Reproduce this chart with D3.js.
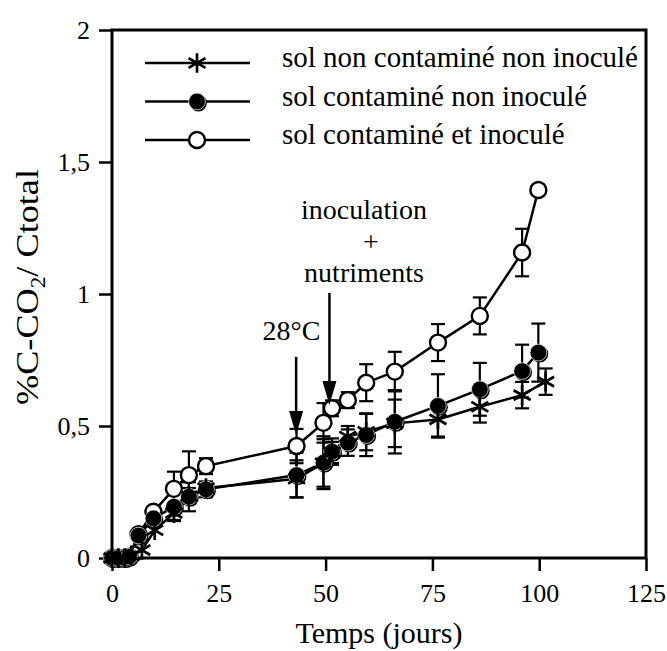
<!DOCTYPE html>
<html lang="fr">
<head>
<meta charset="UTF-8">
<title>%C-CO2 / Ctotal</title>
<script src="https://d3js.org/d3.v7.min.js"></script>
<style>
  body { margin: 0; background: #fff; }
  svg text { font-family: "Liberation Serif", "Times New Roman", serif; fill: #000; }
</style>
</head>
<body>
<div id="chart"></div>
<script>
  // jours de mesure
  const jours = [0, 1.5, 3, 4, 6.2, 9.7, 14.5, 18, 22, 43.2, 49.5, 51.5, 55.2, 59.5, 66.2, 76.3, 86.1, 96, 99.8];
  const joursEtoile = [0, 1.5, 3, 4.5, 7, 10, 14.5, 18, 22, 43.2, 49.5, 51.5, 55.2, 59.5, 66.2, 76.3, 86.1, 96, 101.5];

  // sol contaminé et inoculé (cercles ouverts)
  const sci = [0, 0, 0, 0.005, 0.09, 0.175, 0.262, 0.314, 0.348, 0.424, 0.512, 0.567, 0.598, 0.664, 0.706, 0.816, 0.917, 1.157, 1.394];
  const sciErr = [0, 0, 0, 0, 0, 0.02, 0.065, 0.09, 0.03, 0.065, 0.075, 0.03, 0.03, 0.07, 0.075, 0.07, 0.07, 0.09, 0.02];

  // sol contaminé non inoculé (cercles pleins)
  const scni = [0, 0, 0, 0.005, 0.085, 0.15, 0.194, 0.232, 0.26, 0.314, 0.361, 0.403, 0.437, 0.466, 0.516, 0.576, 0.639, 0.708, 0.778];
  const scniErr = [0, 0, 0, 0, 0, 0.02, 0.05, 0.055, 0.03, 0.085, 0.1, 0.05, 0.05, 0.08, 0.12, 0.12, 0.1, 0.1, 0.11];

  // sol non contaminé non inoculé (étoiles)
  const sncni = [0, 0, 0, 0.01, 0.03, 0.105, 0.17, 0.235, 0.265, 0.30, 0.36, 0.40, 0.46, 0.478, 0.51, 0.525, 0.573, 0.617, 0.668];
  const sncniErr = [0, 0, 0, 0, 0, 0.02, 0.03, 0.03, 0.02, 0.07, 0.09, 0.04, 0.04, 0.07, 0.09, 0.065, 0.06, 0.05, 0.05];

  const xTicks = [0, 25, 50, 75, 100, 125];
  const yTicks = [0, 0.5, 1, 1.5, 2];

  const legende = ["sol non contaminé non inoculé", "sol contaminé non inoculé", "sol contaminé et inoculé"];

  // événements : jour, haut et pointe de la flèche (en %)
  const evenements = [
    { jour: 43.1, haut: 0.762, pointe: 0.466 },
    { jour: 50.9, haut: 1.004, pointe: 0.58 }
  ];

  const width = 667, height = 651;

  const svg = d3.select("#chart").append("svg")
    .attr("width", width)
    .attr("height", height);

  const x = d3.scaleLinear().domain([0, 125]).range([112, 646]);
  const y = d3.scaleLinear().domain([0, 2]).range([558, 30]);

  // axes
  const xAxis = svg.append("g")
    .attr("transform", `translate(0,${y(0)})`)
    .call(d3.axisBottom(x).tickValues(xTicks).tickSize(13).tickPadding(13));
  const yAxis = svg.append("g")
    .attr("transform", `translate(${x(0)},0)`)
    .call(d3.axisLeft(y).tickValues(yTicks).tickSize(13).tickPadding(9)
      .tickFormat(d => String(d).replace(".", ",")));

  [xAxis, yAxis].forEach(a => {
    a.select(".domain").remove();
    a.selectAll("line").attr("stroke", "#000").attr("stroke-width", 2.5);
    a.selectAll("text").style("font-size", "26px").attr("fill", "#000");
  });

  // cadre
  svg.append("rect")
    .attr("x", x(0)).attr("y", y(2))
    .attr("width", x(125) - x(0)).attr("height", y(0) - y(2))
    .attr("fill", "none").attr("stroke", "#000").attr("stroke-width", 3);

  // titres des axes
  svg.append("text")
    .attr("x", (x(0) + x(125)) / 2).attr("y", 643)
    .attr("text-anchor", "middle")
    .style("font-size", "30px")
    .text("Temps (jours)");

  const yt = svg.append("text")
    .attr("transform", "translate(38,405) rotate(-90)")
    .attr("textLength", 236)
    .attr("lengthAdjust", "spacingAndGlyphs")
    .style("font-size", "31px");
  yt.append("tspan").text("%C-CO");
  yt.append("tspan").attr("dy", 7).style("font-size", "20px").text("2");
  yt.append("tspan").attr("dy", -7).text("/ Ctotal");

  const series = [
    { nom: legende[2], jours: jours, val: sci, err: sciErr, type: "ouvert" },
    { nom: legende[1], jours: jours, val: scni, err: scniErr, type: "plein" },
    { nom: legende[0], jours: joursEtoile, val: sncni, err: sncniErr, type: "etoile" }
  ];

  const line = d3.line().x(d => x(d[0])).y(d => y(d[1]));

  const asterisk = d3.symbolAsterisk || {
    draw(ctx, size) {
      const r = Math.sqrt(size + Math.min(size / 28, 0.75)) * 0.59436;
      const t = r / 2, u = t * Math.sqrt(3);
      ctx.moveTo(0, r); ctx.lineTo(0, -r);
      ctx.moveTo(-u, -t); ctx.lineTo(u, t);
      ctx.moveTo(-u, t); ctx.lineTo(u, -t);
    }
  };
  const starPath = d3.symbol().type(asterisk).size(270)();

  function drawMarker(g, type) {
    if (type === "etoile") {
      g.append("path").attr("d", starPath)
        .attr("fill", "none").attr("stroke", "#000").attr("stroke-width", 2.7);
    } else if (type === "plein") {
      g.append("circle").attr("cx", 1.3).attr("cy", 1.3).attr("r", 8.6).attr("fill", "#000");
      g.append("circle").attr("r", 8.4)
        .attr("fill", "#000").attr("stroke", "#fff").attr("stroke-width", 0.7);
    } else {
      g.append("circle").attr("r", 8)
        .attr("fill", "#fff")
        .attr("stroke", "#000").attr("stroke-width", 2.4);
    }
  }

  series.forEach(s => {
    const pts = s.jours.map((j, i) => [j, s.val[i], s.err[i]]);

    svg.append("path")
      .datum(pts)
      .attr("d", line)
      .attr("fill", "none")
      .attr("stroke", "#000")
      .attr("stroke-width", 2.5);

    // barres d'erreur
    const eb = svg.append("g").selectAll("g")
      .data(pts.filter(p => p[2] > 0.025))
      .join("g");
    eb.append("line")
      .attr("x1", p => x(p[0])).attr("x2", p => x(p[0]))
      .attr("y1", p => y(p[1] + p[2])).attr("y2", p => y(p[1] - p[2]))
      .attr("stroke", "#000").attr("stroke-width", 2.2);
    eb.append("line")
      .attr("x1", p => x(p[0]) - 7).attr("x2", p => x(p[0]) + 7)
      .attr("y1", p => y(p[1] + p[2])).attr("y2", p => y(p[1] + p[2]))
      .attr("stroke", "#000").attr("stroke-width", 2.2);
    eb.append("line")
      .attr("x1", p => x(p[0]) - 7).attr("x2", p => x(p[0]) + 7)
      .attr("y1", p => y(p[1] - p[2])).attr("y2", p => y(p[1] - p[2]))
      .attr("stroke", "#000").attr("stroke-width", 2.2);
  });

  series.forEach(s => {
    svg.append("g").selectAll("g")
      .data(s.jours.map((j, i) => [j, s.val[i]]))
      .join("g")
      .attr("transform", p => `translate(${x(p[0])},${y(p[1])})`)
      .each(function () { drawMarker(d3.select(this), s.type); });
  });

  // légende
  const legRows = [
    { nom: legende[0], type: "etoile" },
    { nom: legende[1], type: "plein" },
    { nom: legende[2], type: "ouvert" }
  ];
  const leg = svg.append("g").selectAll("g")
    .data(legRows)
    .join("g")
    .attr("transform", (d, i) => `translate(0,${63 + i * 38.5})`);
  leg.append("line")
    .attr("x1", 145).attr("x2", 250)
    .attr("stroke", "#000").attr("stroke-width", 2.5);
  leg.append("g")
    .attr("transform", "translate(197,0)")
    .each(function (d) { drawMarker(d3.select(this), d.type); });
  leg.append("text")
    .attr("x", 282).attr("y", 4)
    .style("font-size", "29px")
    .text(d => d.nom);

  // flèches d'annotation
  evenements.forEach(e => {
    const xe = x(e.jour), yt0 = y(e.haut), yp = y(e.pointe);
    svg.append("line")
      .attr("x1", xe).attr("x2", xe)
      .attr("y1", yt0).attr("y2", yp - 20)
      .attr("stroke", "#000").attr("stroke-width", 2.5);
    svg.append("path")
      .attr("d", `M${xe - 7},${yp - 24}L${xe + 7},${yp - 24}L${xe},${yp}Z`)
      .attr("fill", "#000");
  });

  svg.append("text")
    .attr("x", 291.5).attr("y", 340)
    .attr("text-anchor", "middle")
    .style("font-size", "28px")
    .text("28°C");

  const anno = ["inoculation", "+", "nutriments"];
  svg.append("g").selectAll("text")
    .data(anno)
    .join("text")
    .attr("x", (d, i) => i === 1 ? 371 : 364)
    .attr("y", (d, i) => 219 + i * 31.5)
    .attr("text-anchor", "middle")
    .style("font-size", "28px")
    .text(d => d);
</script>
</body>
</html>
